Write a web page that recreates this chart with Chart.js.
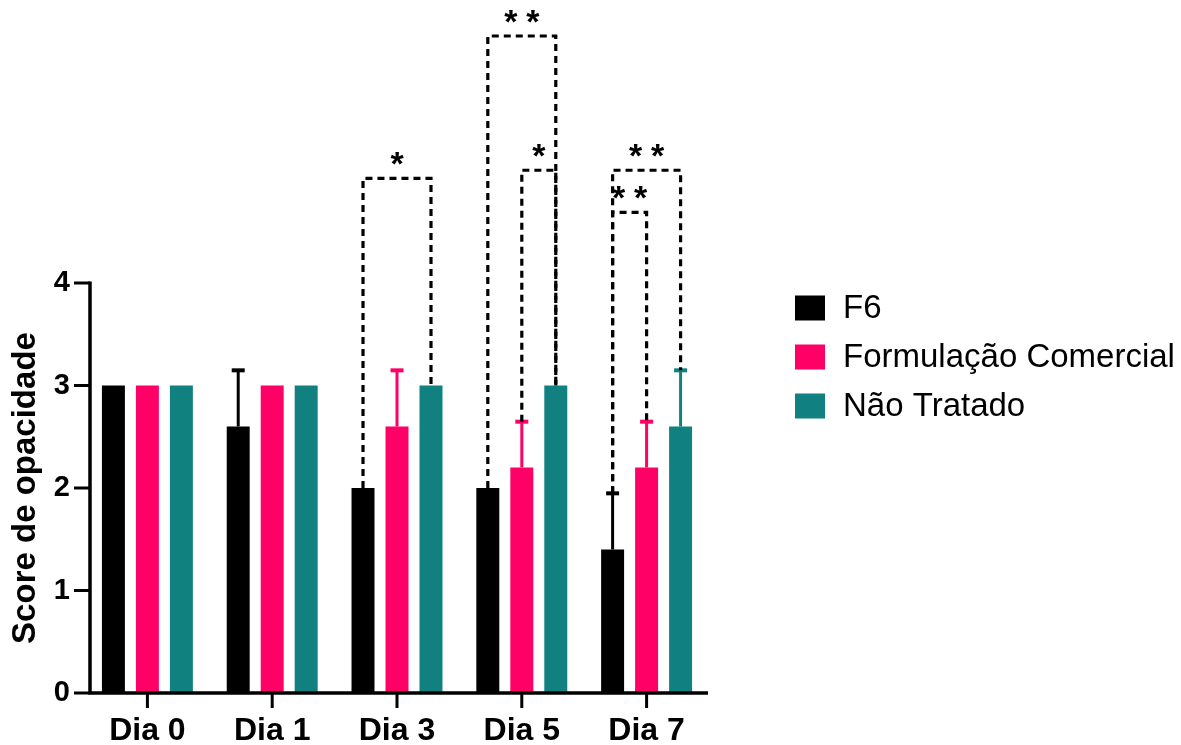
<!DOCTYPE html>
<html>
<head>
<meta charset="utf-8">
<script src="https://cdn.jsdelivr.net/npm/chart.js@4.4.1/dist/chart.umd.min.js"></script>
<style>
  html, body { margin: 0; padding: 0; background: #ffffff; }
  #wrap { width: 1181px; height: 745px; }
</style>
</head>
<body>
<div id="wrap"><canvas id="chart" width="1181" height="745"></canvas></div>
<script>
// ---- data ----
const categories = ['Dia 0', 'Dia 1', 'Dia 3', 'Dia 5', 'Dia 7'];
const seriesNames = ['F6', 'Formulação Comercial', 'Não Tratado'];
const f6 = [3, 2.6, 2, 2, 1.4];
const f6Sd = [0, 0.548, 0, 0, 0.548];
const comercial = [3, 3, 2.6, 2.2, 2.2];
const comercialSd = [0, 0, 0.548, 0.447, 0.447];
const naoTratado = [3, 3, 3, 3, 2.6];
const naoTratadoSd = [0, 0, 0, 0, 0.548];
const yTicks = [0, 1, 2, 3, 4];
// pairwise comparisons: category index, series a, series b, bracket height (score units), label
const comparisons = [
  { cat: 2, a: 0, b: 2, level: 5.02, mark: '*' },
  { cat: 3, a: 0, b: 2, level: 6.41, mark: '**' },
  { cat: 3, a: 1, b: 2, level: 5.10, mark: '*' },
  { cat: 4, a: 0, b: 1, level: 4.69, mark: '**' },
  { cat: 4, a: 0, b: 2, level: 5.10, mark: '**' }
];

const colors = ['#000000', '#ff0066', '#108080'];
const values = [f6, comercial, naoTratado];
const sds = [f6Sd, comercialSd, naoTratadoSd];
const FONT = "'Liberation Sans', Arial, sans-serif";

// axes, tick marks, error bars, comparison brackets and legend
const decorations = {
  id: 'decorations',
  afterDatasetsDraw(chart) {
    const ctx = chart.ctx;
    const xs = chart.scales.x, ys = chart.scales.y;
    const axisX = chart.chartArea.left + 5;
    const axisRight = chart.chartArea.right - 1;
    const y0 = ys.getPixelForValue(0);
    const yTop = ys.getPixelForValue(yTicks[yTicks.length - 1]);
    ctx.save();

    // error bars (upper SD only)
    values.forEach((vals, d) => {
      const meta = chart.getDatasetMeta(d);
      vals.forEach((v, i) => {
        const sd = sds[d][i];
        if (!sd) return;
        const bar = meta.data[i];
        const yv = ys.getPixelForValue(v);
        const ye = ys.getPixelForValue(v + sd);
        ctx.strokeStyle = colors[d];
        ctx.setLineDash([]);
        ctx.lineWidth = 3;
        ctx.beginPath();
        ctx.moveTo(bar.x, yv);
        ctx.lineTo(bar.x, ye);
        ctx.stroke();
        ctx.lineWidth = 4;
        ctx.beginPath();
        ctx.moveTo(bar.x - 6.5, ye);
        ctx.lineTo(bar.x + 6.5, ye);
        ctx.stroke();
      });
    });

    // comparison brackets
    comparisons.forEach(c => {
      const ba = chart.getDatasetMeta(c.a).data[c.cat];
      const bb = chart.getDatasetMeta(c.b).data[c.cat];
      const ya = ys.getPixelForValue(values[c.a][c.cat] + sds[c.a][c.cat]);
      const yb = ys.getPixelForValue(values[c.b][c.cat] + sds[c.b][c.cat]);
      const yl = ys.getPixelForValue(c.level);
      ctx.strokeStyle = '#000';
      ctx.lineWidth = 3.2;
      ctx.setLineDash([7, 5]);
      ctx.beginPath();
      ctx.moveTo(ba.x, ya);
      ctx.lineTo(ba.x, yl);
      ctx.lineTo(bb.x, yl);
      ctx.lineTo(bb.x, yb);
      ctx.stroke();
      ctx.setLineDash([]);
      ctx.fillStyle = '#000';
      ctx.font = 'bold 34px ' + FONT;
      ctx.textAlign = 'center';
      ctx.textBaseline = 'alphabetic';
      const cx = (ba.x + bb.x) / 2;
      const n = c.mark.length;
      for (let k = 0; k < n; k++) {
        ctx.fillText('*', cx + (k - (n - 1) / 2) * 22, yl - 3);
      }
    });

    // axis lines and tick marks
    ctx.setLineDash([]);
    ctx.strokeStyle = '#000';
    ctx.lineWidth = 3.5;
    ctx.beginPath();
    ctx.moveTo(axisX, yTop - 1.5);
    ctx.lineTo(axisX, y0);
    ctx.lineTo(axisRight, y0);
    ctx.stroke();
    ctx.lineWidth = 3;
    ctx.beginPath();
    yTicks.forEach(t => {
      const y = ys.getPixelForValue(t);
      ctx.moveTo(axisX - 16, y);
      ctx.lineTo(axisX, y);
    });
    categories.forEach((c, i) => {
      const x = xs.getPixelForValue(i);
      ctx.moveTo(x, y0);
      ctx.lineTo(x, y0 + 15);
    });
    ctx.stroke();

    // legend
    chart.data.datasets.forEach((ds, d) => {
      const cy = 308 + d * 49;
      ctx.fillStyle = ds.backgroundColor;
      ctx.fillRect(795, cy - 12.5, 30, 25);
      ctx.fillStyle = '#000';
      ctx.font = '33px ' + FONT;
      ctx.textAlign = 'left';
      ctx.textBaseline = 'middle';
      ctx.fillText(ds.label, 843, cy + 1);
    });
    ctx.restore();
  }
};

new Chart(document.getElementById('chart'), {
  type: 'bar',
  data: {
    labels: categories,
    datasets: seriesNames.map((name, d) => ({
      label: name,
      data: values[d],
      backgroundColor: colors[d],
      borderWidth: 0,
      categoryPercentage: 0.817,
      barPercentage: 0.676
    }))
  },
  options: {
    responsive: false,
    animation: false,
    layout: { padding: { left: 0, right: 472, top: 283, bottom: 0 } },
    plugins: { legend: { display: false }, tooltip: { enabled: false } },
    scales: {
      x: {
        grid: { display: false, drawTicks: false },
        border: { display: false },
        ticks: { color: '#000', padding: 19, font: { family: FONT, size: 32, weight: 'bold' } },
        afterFit: s => { s.height = 52; }
      },
      y: {
        min: 0,
        max: 4,
        afterBuildTicks: s => { s.ticks = yTicks.map(v => ({ value: v })); },
        grid: { display: false, drawTicks: false },
        border: { display: false },
        ticks: { color: '#000', padding: 15, font: { family: FONT, size: 29, weight: 'bold' } },
        title: {
          display: true,
          text: 'Score de opacidade',
          color: '#000',
          padding: { top: 6, bottom: 0 },
          font: { family: FONT, size: 33, weight: 'bold' }
        },
        afterFit: s => { s.width = 85; }
      }
    }
  },
  plugins: [decorations]
});
</script>
</body>
</html>
